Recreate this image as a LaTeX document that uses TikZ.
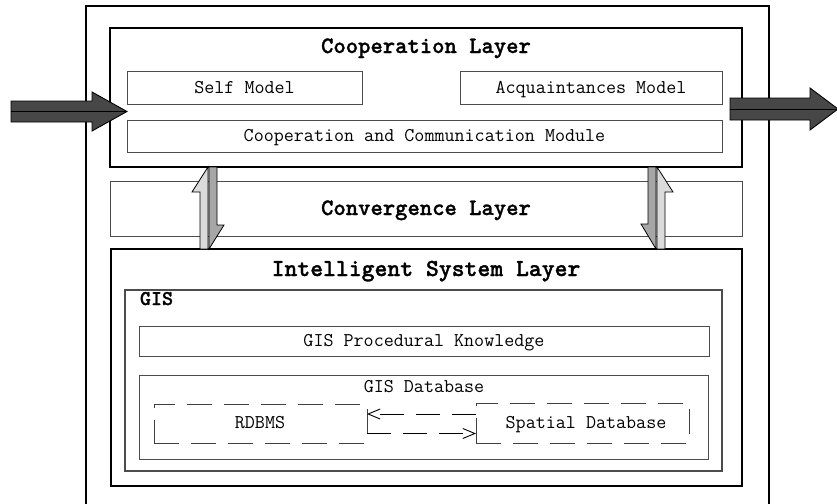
\documentclass[tikz,border=0pt]{standalone}
\usepackage{fontspec}
\newfontfamily\headfont{lmmonolt10-bold.otf}[FakeBold=1.2]
\usetikzlibrary{calc,arrows.meta}
\begin{document}
\begin{tikzpicture}[x=1pt,y=-1pt,
  font=\ttfamily\fontsize{19.5}{22}\selectfont,
  every node/.style={inner sep=0pt, outer sep=0pt},
  label/.style={anchor=base},
  layerbox/.style={draw=black, line width=1.5pt, anchor=north west},
  lightbox/.style={draw=black!70, line width=0.9pt, anchor=north west},
  dashbox/.style={draw=black!75, line width=0.9pt, dash pattern=on 25pt off 12pt, anchor=north west},
  title/.style={anchor=base, font=\headfont\fontsize{23.5}{27}\selectfont},
  link/.style={draw=black, line width=0.9pt, dash pattern=on 24pt off 12pt,
               -{Straight Barb[length=12pt,width=10pt,line width=0.9pt]}},
  bigarrow/.style={draw=black, line width=0.9pt, fill=black!72},
  uparrow/.style={draw=black, line width=0.8pt, fill=black!14},
  downarrow/.style={draw=black, line width=0.8pt, fill=black!35}]

\useasboundingbox (0,0) rectangle (837,503);
\clip (0,0) rectangle (837,503);

% outer agent frame (open at the bottom)
\node[draw=black, line width=2.2pt, anchor=north west,
      minimum width=683pt, minimum height=520pt] (agent) at (86,6) {};

% cooperation layer
\node[layerbox, minimum width=632pt, minimum height=139pt] (coop) at (110,28) {};
\node[title] (cooptitle) at (426,53) {Cooperation Layer};
\node[lightbox, minimum width=235pt, minimum height=33pt] (self) at (127,71) {};
\node[label] (selftxt) at (244.5,93) {Self Model};
\node[lightbox, minimum width=262pt, minimum height=33pt] (acq) at (460,71) {};
\node[label] (acqtxt) at (591,93) {Acquaintances Model};
\node[lightbox, minimum width=595pt, minimum height=32pt] (ccm) at (127,120) {};
\node[label] (ccmtxt) at (424.5,141) {Cooperation and Communication Module};

% convergence layer
\node[lightbox, minimum width=632pt, minimum height=55pt] (conv) at (110,181) {};
\node[title] (convtitle) at (426,215) {Convergence Layer};

% intelligent system layer
\node[layerbox, minimum width=631pt, minimum height=237pt] (isl) at (111,249) {};
\node[title, font=\headfont\fontsize{24.5}{28}\selectfont] (isltitle) at (426,276) {Intelligent System Layer};
\node[draw=black!70, line width=1.2pt, anchor=north west,
      minimum width=597pt, minimum height=181pt] (gis) at (125,290) {};
\node[title, font=\headfont\fontsize{21}{25}\selectfont, anchor=base west] (gistitle) at (140,305) {GIS};
\node[lightbox, minimum width=570pt, minimum height=30pt] (gpk) at (139,326) {};
\node[label] (gpktxt) at (424,346) {GIS Procedural Knowledge};
\node[lightbox, minimum width=569pt, minimum height=84pt] (gdb) at (139,375) {};
\node[label] (gdbtxt) at (424,392) {GIS Database};
\node[dashbox, minimum width=213pt, minimum height=39pt] (rdbms) at (154,404) {};
\node[label] (rdbmstxt) at (260,428) {RDBMS};
\node[dashbox, minimum width=213pt, minimum height=40pt] (spatial) at (476,403) {};
\node[label] (spatialtxt) at (586,428) {Spatial Database};

% links between the two databases
\draw[link] ([yshift=9pt]spatial.west) -- ([yshift=9pt]spatial.west -| rdbms.east);
\draw[link] ([yshift=-10pt]rdbms.east) -- ([yshift=-10pt]rdbms.east -| spatial.west);

% exchange arrows between layers
\draw[uparrow]   (208,167) -- (192,192) -- (200,192) -- (200,249) -- (208,249) -- cycle;
\draw[downarrow] (209,167) -- (217,167) -- (217,225) -- (224,225) -- (209,249) -- cycle;
\draw[downarrow] (648,167) -- (656,167) -- (656,249) -- (641,224) -- (648,224) -- cycle;
\draw[uparrow]   (657,167) -- (673,192) -- (665,192) -- (665,249) -- (657,249) -- cycle;

% incoming and outgoing messages
\draw[bigarrow] (11,101) -- (92,101) -- (92,92) -- (127,111.5) -- (92,131) -- (92,122) -- (11,122) -- cycle;
\draw[black, line width=0.9pt] (11,111.5) -- (127,111.5);
\draw[bigarrow] (730,98) -- (810,98) -- (810,88) -- (838,109) -- (810,130) -- (810,120) -- (730,120) -- cycle;
\draw[black, line width=0.9pt] (730,109) -- (838,109);
\end{tikzpicture}
\end{document}
